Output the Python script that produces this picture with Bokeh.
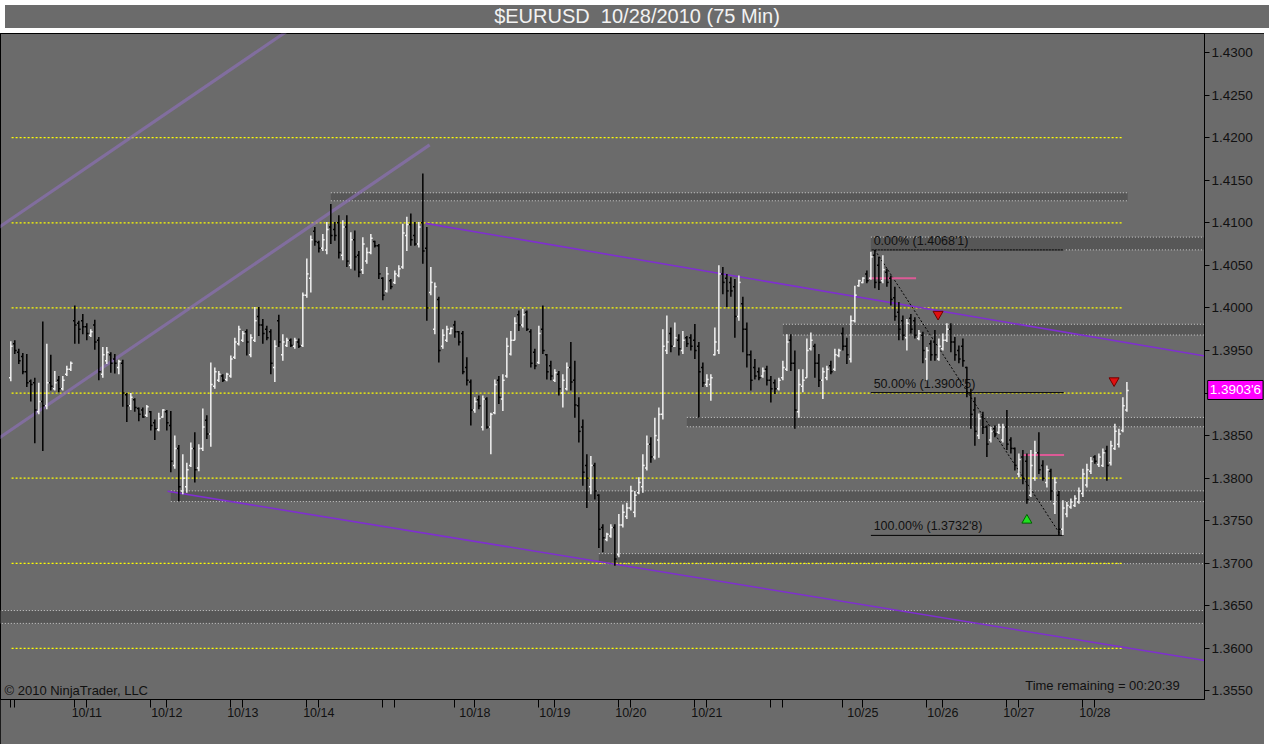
from bokeh.plotting import figure
from bokeh.models import (ColumnDataSource, SingleIntervalTicker, PrintfTickFormatter,
                          FixedTicker, Label, Div, Range1d)
from bokeh.layouts import column
from bokeh.embed import file_html
from bokeh.resources import INLINE
from bokeh.core.properties import value

# ---------------- data: 75-minute OHLC bars (bar index = x) ----------------
bar_open = [
    1.3918, 1.3958, 1.3948, 1.3943, 1.3925, 1.3914, 1.3912, 1.3878, 1.3890, 1.3885,
    1.3912, 1.3905, 1.3915, 1.3905, 1.3922, 1.3928, 1.3985, 1.3982, 1.3985, 1.3978,
    1.3968, 1.3980, 1.3962, 1.3922, 1.3938, 1.3945, 1.3940, 1.3930, 1.3935, 1.3898,
    1.3885, 1.3892, 1.3882, 1.3880, 1.3874, 1.3878, 1.3865, 1.3857, 1.3872, 1.3878,
    1.3862, 1.3815, 1.3835, 1.3785, 1.3790, 1.3815, 1.3835, 1.3812, 1.3835, 1.3868,
    1.3852, 1.3908, 1.3915, 1.3920, 1.3916, 1.3920, 1.3942, 1.3958, 1.3962, 1.3972,
    1.3945, 1.3962, 1.3990, 1.3980, 1.3975, 1.3972, 1.3930, 1.3985, 1.3945, 1.3956,
    1.3962, 1.3955, 1.3960, 1.3956, 1.4015, 1.4035, 1.4090, 1.4077, 1.4070, 1.4068,
    1.4095, 1.4092, 1.4100, 1.4062, 1.4095, 1.4050, 1.4080, 1.4062, 1.4045, 1.4055,
    1.4065, 1.4078, 1.4073, 1.4035, 1.4020, 1.4032, 1.4030, 1.4038, 1.4048, 1.4085,
    1.4098, 1.4085, 1.4075, 1.4100, 1.4070, 1.4018, 1.3975, 1.4010, 1.3955, 1.3962,
    1.3970, 1.3980, 1.3972, 1.3970, 1.3930, 1.3913, 1.3880, 1.3892, 1.3860, 1.3893,
    1.3860, 1.3877, 1.3915, 1.3893, 1.3920, 1.3946, 1.3962, 1.3992, 1.3980, 1.3995,
    1.3972, 1.3948, 1.3936, 1.3975, 1.3945, 1.3932, 1.3915, 1.3922, 1.3900, 1.3905,
    1.3930, 1.3915, 1.3885, 1.3860, 1.3815, 1.3790, 1.3815, 1.3780, 1.3742, 1.3728,
    1.3732, 1.3742, 1.3710, 1.3745, 1.3755, 1.3765, 1.3760, 1.3783, 1.3790, 1.3812,
    1.3840, 1.3825, 1.3845, 1.3875, 1.3950, 1.3970, 1.3955, 1.3962, 1.3950, 1.3965,
    1.3965, 1.3962, 1.3955, 1.3930, 1.3910, 1.3910, 1.3945, 1.3950, 1.4040, 1.4035,
    1.4030, 1.4025, 1.3990, 1.4005, 1.3975, 1.3945, 1.3930, 1.3925, 1.3920, 1.3928,
    1.3915, 1.3912, 1.3905, 1.3918, 1.3928, 1.3962, 1.3935, 1.3878, 1.3908, 1.3918,
    1.3952, 1.3955, 1.3935, 1.3915, 1.3918, 1.3932, 1.3928, 1.3944, 1.3970, 1.3955,
    1.3940, 1.3985, 1.4026, 1.4030, 1.4040, 1.4035, 1.4062, 1.4050, 1.4032, 1.4042,
    1.4035, 1.4012, 1.3995, 1.3985, 1.3965, 1.3988, 1.3985, 1.3964, 1.3968, 1.3940,
    1.3958, 1.3960, 1.3940, 1.3952, 1.3962, 1.3975, 1.3960, 1.3950, 1.3955, 1.3930,
    1.3900, 1.3880, 1.3850, 1.3872, 1.3860, 1.3845, 1.3858, 1.3854, 1.3845, 1.3860,
    1.3845, 1.3835, 1.3805, 1.3825, 1.3820, 1.3780, 1.3800, 1.3830, 1.3815, 1.3795,
    1.3808, 1.3770, 1.3780, 1.3740, 1.3758, 1.3766, 1.3768, 1.3772, 1.3782, 1.3792,
    1.3808, 1.3825, 1.3816, 1.3815, 1.3832, 1.3818, 1.3835, 1.3840, 1.3856, 1.3880,
]
bar_high = [
    1.3961, 1.3962, 1.3952, 1.3947, 1.3946, 1.3916, 1.3918, 1.3912, 1.3984, 1.3958,
    1.3945, 1.3926, 1.3920, 1.3920, 1.3932, 1.3937, 1.4003, 1.3985, 1.3993, 1.3982,
    1.3975, 1.3986, 1.3966, 1.3954, 1.3954, 1.3948, 1.3946, 1.3939, 1.3939, 1.3900,
    1.3900, 1.3894, 1.3883, 1.3883, 1.3886, 1.3879, 1.3869, 1.3877, 1.3881, 1.3880,
    1.3879, 1.3850, 1.3839, 1.3828, 1.3818, 1.3842, 1.3854, 1.3840, 1.3882, 1.3874,
    1.3936, 1.3930, 1.3926, 1.3922, 1.3924, 1.3944, 1.3965, 1.3979, 1.3973, 1.3975,
    1.3969, 1.4001, 1.4001, 1.3987, 1.3979, 1.3975, 1.3962, 1.3992, 1.3969, 1.3965,
    1.3964, 1.3965, 1.3964, 1.4018, 1.4058, 1.4085, 1.4095, 1.4079, 1.4087, 1.4101,
    1.4122, 1.4101, 1.4109, 1.4103, 1.4109, 1.4089, 1.4091, 1.4067, 1.4083, 1.4071,
    1.4087, 1.4079, 1.4075, 1.4036, 1.4048, 1.4034, 1.4044, 1.4050, 1.4099, 1.4107,
    1.4111, 1.4101, 1.4101, 1.4158, 1.4095, 1.4048, 1.4030, 1.4013, 1.3975, 1.3979,
    1.3977, 1.3985, 1.3973, 1.3973, 1.3942, 1.3916, 1.3895, 1.3897, 1.3897, 1.3895,
    1.3877, 1.3916, 1.3920, 1.3922, 1.3965, 1.3973, 1.3989, 1.3997, 1.3999, 1.3997,
    1.3975, 1.3952, 1.3979, 1.4003, 1.3946, 1.3938, 1.3928, 1.3926, 1.3922, 1.3936,
    1.3960, 1.3938, 1.3895, 1.3869, 1.3828, 1.3826, 1.3818, 1.3781, 1.3746, 1.3736,
    1.3746, 1.3746, 1.3758, 1.3769, 1.3771, 1.3791, 1.3785, 1.3801, 1.3828, 1.3850,
    1.3848, 1.3871, 1.3883, 1.3975, 1.3991, 1.3977, 1.3983, 1.3969, 1.3973, 1.3967,
    1.3969, 1.3981, 1.3960, 1.3936, 1.3922, 1.3922, 1.3977, 1.4050, 1.4048, 1.4040,
    1.4036, 1.4034, 1.4038, 1.4013, 1.3983, 1.3950, 1.3940, 1.3930, 1.3930, 1.3932,
    1.3920, 1.3916, 1.3918, 1.3938, 1.3969, 1.3969, 1.3950, 1.3928, 1.3928, 1.3964,
    1.3971, 1.3958, 1.3946, 1.3930, 1.3932, 1.3938, 1.3952, 1.3952, 1.3977, 1.3965,
    1.3991, 1.4026, 1.4033, 1.4036, 1.4044, 1.4066, 1.4068, 1.4060, 1.4062, 1.4046,
    1.4038, 1.4025, 1.4007, 1.3991, 1.3987, 1.3993, 1.3989, 1.3974, 1.3972, 1.3954,
    1.3962, 1.3974, 1.3964, 1.3970, 1.3982, 1.3982, 1.3966, 1.3956, 1.3964, 1.3931,
    1.3905, 1.3895, 1.3876, 1.3878, 1.3862, 1.3860, 1.3862, 1.3864, 1.3864, 1.3880,
    1.3848, 1.3836, 1.3829, 1.3833, 1.3829, 1.3833, 1.3844, 1.3854, 1.3821, 1.3815,
    1.3811, 1.3801, 1.3785, 1.3774, 1.3772, 1.3776, 1.3780, 1.3789, 1.3811, 1.3817,
    1.3825, 1.3827, 1.3829, 1.3835, 1.3838, 1.3844, 1.3864, 1.3858, 1.3895, 1.3913,
]
bar_low = [
    1.3914, 1.3946, 1.3934, 1.3922, 1.3907, 1.3890, 1.3841, 1.3875, 1.3832, 1.3881,
    1.3903, 1.3903, 1.3901, 1.3903, 1.3920, 1.3926, 1.3958, 1.3958, 1.3969, 1.3962,
    1.3966, 1.3951, 1.3915, 1.3918, 1.3934, 1.3924, 1.3923, 1.3922, 1.3884, 1.3866,
    1.3880, 1.3878, 1.3867, 1.3871, 1.3872, 1.3856, 1.3845, 1.3855, 1.3871, 1.3856,
    1.3807, 1.3811, 1.3773, 1.3781, 1.3783, 1.3813, 1.3795, 1.3808, 1.3832, 1.3846,
    1.3837, 1.3905, 1.3913, 1.3913, 1.3914, 1.3918, 1.3940, 1.3956, 1.3960, 1.3944,
    1.3942, 1.3960, 1.3967, 1.3958, 1.3962, 1.3922, 1.3913, 1.3954, 1.3938, 1.3954,
    1.3954, 1.3952, 1.3953, 1.3954, 1.4012, 1.4018, 1.4073, 1.4065, 1.4067, 1.4063,
    1.4075, 1.4079, 1.4058, 1.4056, 1.4048, 1.4046, 1.4044, 1.4036, 1.4040, 1.4052,
    1.4063, 1.4071, 1.4034, 1.4009, 1.4018, 1.4022, 1.4028, 1.4036, 1.4046, 1.4067,
    1.4073, 1.4073, 1.4071, 1.4052, 1.3985, 1.4015, 1.3969, 1.3936, 1.3952, 1.3960,
    1.3969, 1.3965, 1.3956, 1.3922, 1.3909, 1.3862, 1.3877, 1.3881, 1.3856, 1.3858,
    1.3828, 1.3875, 1.3887, 1.3879, 1.3918, 1.3944, 1.3962, 1.3973, 1.3977, 1.3973,
    1.3930, 1.3928, 1.3934, 1.3946, 1.3916, 1.3915, 1.3913, 1.3897, 1.3883, 1.3903,
    1.3903, 1.3871, 1.3842, 1.3791, 1.3765, 1.3781, 1.3775, 1.3718, 1.3713, 1.3726,
    1.3730, 1.3697, 1.3707, 1.3742, 1.3752, 1.3762, 1.3754, 1.3781, 1.3783, 1.3809,
    1.3818, 1.3822, 1.3824, 1.3869, 1.3946, 1.3948, 1.3954, 1.3944, 1.3946, 1.3954,
    1.3950, 1.3940, 1.3871, 1.3907, 1.3907, 1.3891, 1.3944, 1.3946, 1.4016, 1.4001,
    1.4013, 1.3965, 1.3985, 1.3948, 1.3930, 1.3903, 1.3916, 1.3915, 1.3918, 1.3909,
    1.3889, 1.3899, 1.3903, 1.3915, 1.3926, 1.3926, 1.3858, 1.3871, 1.3901, 1.3918,
    1.3950, 1.3918, 1.3907, 1.3893, 1.3915, 1.3922, 1.3926, 1.3942, 1.3950, 1.3934,
    1.3936, 1.3983, 1.4025, 1.4029, 1.4029, 1.4033, 1.4023, 1.4021, 1.4029, 1.4025,
    1.4003, 1.3985, 1.3962, 1.3962, 1.3950, 1.3970, 1.3964, 1.3962, 1.3935, 1.3915,
    1.3938, 1.3938, 1.3938, 1.3950, 1.3960, 1.3948, 1.3938, 1.3935, 1.3931, 1.3895,
    1.3858, 1.3838, 1.3846, 1.3852, 1.3825, 1.3842, 1.3848, 1.3852, 1.3842, 1.3833,
    1.3829, 1.3809, 1.3801, 1.3793, 1.3770, 1.3778, 1.3797, 1.3805, 1.3797, 1.3789,
    1.3774, 1.3758, 1.3733, 1.3733, 1.3754, 1.3764, 1.3766, 1.3770, 1.3778, 1.3789,
    1.3805, 1.3817, 1.3813, 1.3813, 1.3797, 1.3815, 1.3833, 1.3836, 1.3854, 1.3878,
]
bar_close = [
    1.3955, 1.3950, 1.3938, 1.3925, 1.3912, 1.3910, 1.3880, 1.3890, 1.3885, 1.3912,
    1.3908, 1.3912, 1.3905, 1.3915, 1.3928, 1.3935, 1.3980, 1.3975, 1.3978, 1.3970,
    1.3972, 1.3960, 1.3925, 1.3945, 1.3948, 1.3935, 1.3935, 1.3937, 1.3900, 1.3885,
    1.3895, 1.3883, 1.3875, 1.3872, 1.3884, 1.3862, 1.3858, 1.3870, 1.3880, 1.3865,
    1.3820, 1.3835, 1.3790, 1.3800, 1.3810, 1.3835, 1.3810, 1.3835, 1.3860, 1.3852,
    1.3910, 1.3925, 1.3922, 1.3915, 1.3922, 1.3940, 1.3960, 1.3975, 1.3970, 1.3960,
    1.3965, 1.3985, 1.3980, 1.3970, 1.3965, 1.3935, 1.3955, 1.3960, 1.3960, 1.3962,
    1.3956, 1.3962, 1.3955, 1.4015, 1.4040, 1.4080, 1.4078, 1.4070, 1.4080, 1.4092,
    1.4085, 1.4085, 1.4065, 1.4095, 1.4055, 1.4080, 1.4060, 1.4042, 1.4075, 1.4065,
    1.4082, 1.4073, 1.4040, 1.4015, 1.4040, 1.4025, 1.4040, 1.4046, 1.4088, 1.4098,
    1.4080, 1.4075, 1.4095, 1.4067, 1.4000, 1.4030, 1.4025, 1.3950, 1.3968, 1.3975,
    1.3976, 1.3972, 1.3960, 1.3925, 1.3915, 1.3880, 1.3890, 1.3885, 1.3893, 1.3860,
    1.3875, 1.3910, 1.3895, 1.3915, 1.3955, 1.3962, 1.3982, 1.3980, 1.3992, 1.3975,
    1.3935, 1.3932, 1.3970, 1.3950, 1.3925, 1.3920, 1.3924, 1.3905, 1.3915, 1.3930,
    1.3913, 1.3886, 1.3855, 1.3807, 1.3800, 1.3815, 1.3785, 1.3740, 1.3730, 1.3734,
    1.3742, 1.3705, 1.3745, 1.3760, 1.3765, 1.3785, 1.3780, 1.3795, 1.3815, 1.3840,
    1.3825, 1.3850, 1.3875, 1.3955, 1.3960, 1.3955, 1.3965, 1.3952, 1.3962, 1.3958,
    1.3955, 1.3950, 1.3925, 1.3912, 1.3916, 1.3918, 1.3960, 1.4040, 1.4030, 1.4020,
    1.4020, 1.3990, 1.4030, 1.3975, 1.3945, 1.3915, 1.3920, 1.3918, 1.3926, 1.3915,
    1.3905, 1.3905, 1.3915, 1.3930, 1.3960, 1.3935, 1.3880, 1.3910, 1.3915, 1.3950,
    1.3962, 1.3935, 1.3915, 1.3925, 1.3928, 1.3925, 1.3945, 1.3950, 1.3955, 1.3945,
    1.3985, 1.4015, 1.4032, 1.4035, 1.4032, 1.4060, 1.4030, 1.4030, 1.4045, 1.4030,
    1.4010, 1.3990, 1.3975, 1.3968, 1.3982, 1.3975, 1.3968, 1.3970, 1.3950, 1.3950,
    1.3945, 1.3945, 1.3955, 1.3962, 1.3975, 1.3960, 1.3945, 1.3940, 1.3938, 1.3900,
    1.3875, 1.3855, 1.3870, 1.3860, 1.3840, 1.3855, 1.3852, 1.3860, 1.3860, 1.3840,
    1.3835, 1.3815, 1.3822, 1.3800, 1.3775, 1.3815, 1.3830, 1.3810, 1.3800, 1.3810,
    1.3785, 1.3795, 1.3740, 1.3765, 1.3768, 1.3772, 1.3776, 1.3785, 1.3805, 1.3810,
    1.3820, 1.3820, 1.3825, 1.3830, 1.3815, 1.3838, 1.3855, 1.3852, 1.3885, 1.3903,
]

# x-axis (bar index) tick positions and date labels
date_ticks = [0, 1, 16, 19, 35, 39, 55, 58, 74, 77, 93, 96, 111, 116, 132, 136,
              152, 155, 171, 174, 190, 193, 208, 213, 229, 233, 249, 252, 268, 271]
date_labels = {19: "10/11", 39: "10/12", 58: "10/13", 77: "10/14", 116: "10/18",
               136: "10/19", 155: "10/20", 174: "10/21", 213: "10/25", 233: "10/26",
               252: "10/27", 271: "10/28"}

# horizontal yellow levels
yellow_levels = [1.42, 1.41, 1.40, 1.39, 1.38, 1.37, 1.36]
yellow_span = [0.2, 278.0]

# grey supply/demand zones
zone_left = [80, 215, 193, 169, 40, 147, -3]
zone_right = [279.2, 300, 300, 300, 300, 300, 300]
zone_bottom = [1.41259, 1.40682, 1.39682, 1.38604, 1.37725, 1.36996, 1.36294]
zone_top = [1.41353, 1.40832, 1.39808, 1.38714, 1.37851, 1.37114, 1.36445]

# trend / channel lines (bar index, price)
desc_upper_x = [103.7, 320.0]
desc_upper_y = [1.40993, 1.39263]
desc_lower_x = [39.2, 320.0]
desc_lower_y = [1.37847, 1.35693]
asc_a_x = [-5.8, 73.3]
asc_a_y = [1.40856, 1.43388]
asc_b_x = [-5.8, 104.7]
asc_b_y = [1.38380, 1.41915]

# Fibonacci retracement
fib_levels = [1.40681, 1.39005, 1.37328]
fib_texts = ["0.00% (1.4068'1)", "50.00% (1.3900'5)", "100.00% (1.3732'8)"]
fib_span = [215.0, 263.2]
fib_diag_x = [216.0, 262.5]
fib_diag_y = [1.40681, 1.37328]

# pink short levels
pink_x0 = [214.6, 252.9]
pink_x1 = [226.3, 263.3]
pink_y = [1.40350, 1.38271]

# signal markers
sell_x = [231.8, 275.8]
sell_y = [1.39926, 1.39145]
buy_x = [254.0]
buy_y = [1.37506]

last_price = 1.39036
last_price_text = "1.3903'6"

BG = "#6b6b6b"
FONT = "Liberation Sans"

# ---------------- figure ----------------
p = figure(width=1264, height=711,
           x_range=Range1d(-2.575, 298.4), y_range=Range1d(1.3540, 1.43224),
           y_axis_location="right", output_backend="svg", toolbar_location=None,
           min_border_left=0, min_border_right=60, min_border_top=0, min_border_bottom=45)
p.background_fill_color = BG
p.border_fill_color = BG
p.outline_line_color = "black"
p.outline_line_width = 1
p.xgrid.visible = False
p.ygrid.visible = False
p.styles = {"outline": "1px solid black", "outline-offset": "-1px"}

yax = p.yaxis[0]
yax.ticker = SingleIntervalTicker(interval=0.005, num_minor_ticks=0)
yax.formatter = PrintfTickFormatter(format="%.4f")
yax.major_tick_out = 5
yax.major_tick_in = 0
yax.minor_tick_out = 0
yax.minor_tick_in = 0
yax.axis_line_color = "black"
yax.major_tick_line_color = "black"
yax.major_label_text_font = FONT
yax.major_label_text_font_size = "13.5px"
yax.major_label_text_color = "#111111"
yax.major_label_standoff = 2

xax = p.xaxis[0]
xax.ticker = FixedTicker(ticks=date_ticks)
xax.major_label_overrides = {t: date_labels.get(t, "") for t in date_ticks}
xax.major_tick_out = 8
xax.major_tick_in = 0
xax.minor_tick_out = 0
xax.minor_tick_in = 0
xax.axis_line_color = "black"
xax.major_tick_line_color = "black"
xax.major_label_text_font = FONT
xax.major_label_text_font_size = "12.5px"
xax.major_label_text_color = "#111111"
xax.major_label_standoff = -2

# zones
p.quad(left=zone_left, right=zone_right, bottom=zone_bottom, top=zone_top,
       fill_color="#575757", line_color=None)
p.segment(x0=zone_left + zone_left, x1=zone_right + zone_right,
          y0=zone_bottom + zone_top, y1=zone_bottom + zone_top,
          line_color="#d0d0d0", line_dash="1 2", line_width=1)

# yellow levels
p.segment(x0=[yellow_span[0]] * len(yellow_levels), x1=[yellow_span[1]] * len(yellow_levels),
          y0=yellow_levels, y1=yellow_levels, line_color="#ffff00", line_dash="2 2", line_width=1.2)

# ascending channel (wide translucent lavender)
p.line(asc_a_x, asc_a_y, line_color="#9070c0", line_alpha=0.6, line_width=3.2)
p.line(asc_b_x, asc_b_y, line_color="#9070c0", line_alpha=0.6, line_width=3.2)
# descending channel
p.line(desc_upper_x, desc_upper_y, line_color="#7f2fd0", line_width=1.6)
p.line(desc_lower_x, desc_lower_y, line_color="#7f2fd0", line_width=1.6)

# fib retracement
p.segment(x0=[fib_span[0]] * 3, x1=[fib_span[1]] * 3, y0=fib_levels, y1=fib_levels,
          line_color="black", line_width=1)
p.line(fib_diag_x, fib_diag_y, line_color="black", line_dash="2 2", line_width=1)
p.text(x=[fib_span[0] + 0.7] * 3, y=[v + 0.00025 for v in fib_levels], text=fib_texts,
       text_font=value(FONT), text_font_size=value("12.5px"), text_color="#111111",
       text_baseline="bottom", text_align="left")

# pink levels
p.segment(x0=pink_x0, x1=pink_x1, y0=pink_y, y1=pink_y, line_color="#dc5a96", line_width=2)

# OHLC bars
n = len(bar_open)
xs = list(range(n))
colors = ["#f2f2f2" if c >= o else "#000000" for o, c in zip(bar_open, bar_close)]
src = ColumnDataSource(dict(x=xs, xl=[x - 0.45 for x in xs], xr=[x + 0.45 for x in xs],
                            open=bar_open, high=bar_high, low=bar_low, close=bar_close,
                            color=colors))
p.segment(x0="x", y0="low", x1="x", y1="high", line_color="color", line_width=1.5, source=src)
p.segment(x0="xl", y0="open", x1="x", y1="open", line_color="color", line_width=1.5, source=src)
p.segment(x0="x", y0="close", x1="xr", y1="close", line_color="color", line_width=1.5, source=src)

# signal triangles
p.scatter(x=sell_x, y=sell_y, marker="inverted_triangle", size=10,
          fill_color="#e01010", line_color="#700000", line_width=1)
p.scatter(x=buy_x, y=buy_y, marker="triangle", size=10,
          fill_color="#20e020", line_color="#006000", line_width=1)

# footer texts
p.text(x=[-1.575], y=[1.35412], text=["\u00a9 2010 NinjaTrader, LLC"],
       text_font=value(FONT), text_font_size=value("13px"), text_color="#111111",
       text_baseline="bottom", text_align="left")
p.text(x=[292.2], y=[1.35471], text=["Time remaining = 00:20:39"],
       text_font=value(FONT), text_font_size=value("13px"), text_color="#111111",
       text_baseline="bottom", text_align="right")

# last price marker on the axis (placed in a side panel so it is not clipped to the frame)
p.add_layout(Label(x=299.2, y=last_price, text=last_price_text, text_color="white",
                   text_font=FONT, text_font_size="13.5px",
                   text_baseline="middle", text_align="left",
                   background_fill_color="#ff00ff", border_line_color="black",
                   padding=2), "below")

title = Div(text="$EURUSD&nbsp;&nbsp;10/28/2010 (75 Min)", width=1264, height=23,
            disable_math=True,
            styles={"background-color": BG, "color": "#f2f2f2",
                    "font-family": "'Liberation Sans', Arial, sans-serif",
                    "font-size": "20px", "text-align": "center", "line-height": "23px"})

layout = column(title, p, spacing=0)
open("out.html", "w").write(file_html(layout, INLINE))
